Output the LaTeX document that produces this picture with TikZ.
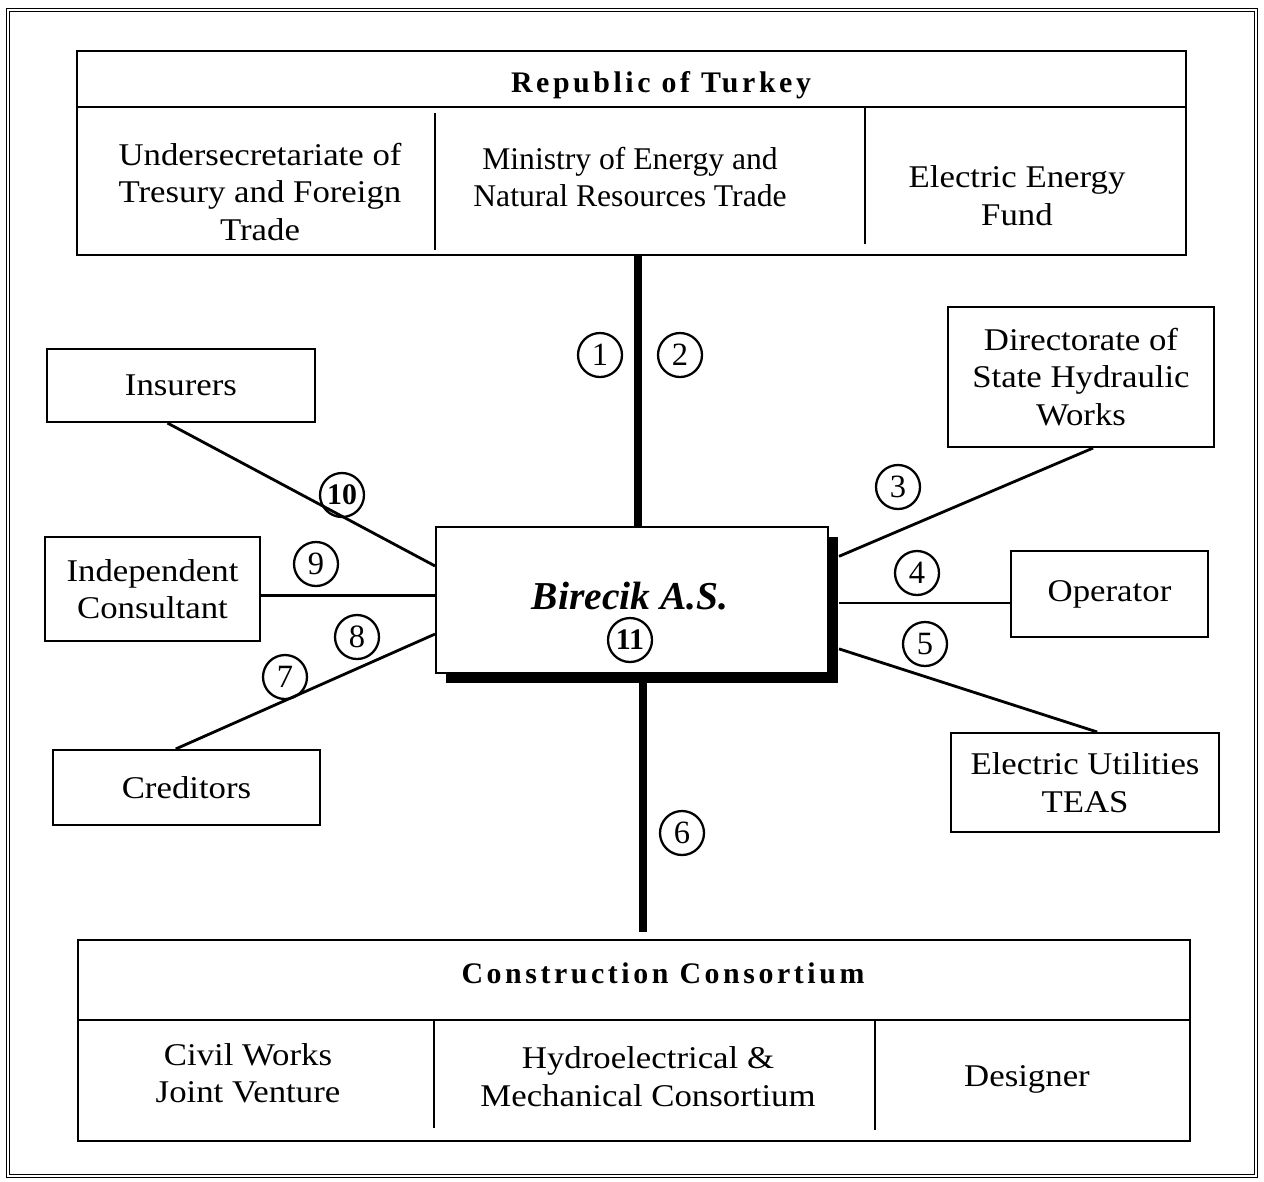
\documentclass[tikz,border=0pt]{standalone}
\usepackage{fontspec}
\setmainfont{Liberation Serif}
\newfontfamily\wideserif[FakeStretch=1.1]{Liberation Serif}
\usetikzlibrary{calc,shadows}
\tikzset{
  box/.style={draw, line width=1.2pt, fill=white, inner sep=0pt, align=center},
  txt/.style={align=center, font=\wideserif\fontsize{18}{21.3}\selectfont},
  hdr/.style={font=\bfseries\fontsize{17}{20}\selectfont\addfontfeature{LetterSpace=12}},
  num/.style={draw, circle, line width=1.3pt, minimum size=0.88cm, inner sep=0pt,
    font=\fontsize{18.5}{20}\selectfont},
  trunk/.style={line width=4pt},
  link/.style={line width=1.6pt},
}

\begin{document}
\begin{tikzpicture}[x=0.02cm, y=-0.02cm]
  \useasboundingbox (0,0) rectangle (1264,1181);
  \draw[double, line width=0.5pt, double distance=1.5pt] (8,10) rectangle (1256,1176);

  %% government block
  \node[box, minimum width=22.18cm, minimum height=4.08cm] (turkey) at (631.5,153) {};
  \node[hdr] (turkeyhd) at (661,85) {Republic of Turkey};
  \draw[line width=1.2pt] (turkey.west |- 0,107) -- (turkey.east |- 0,107);
  \draw[line width=1.2pt] (435,113) -- (435,250);
  \draw[line width=1.2pt] (865,107) -- (865,244);
  \node[txt] (treasury) at (260,192) {Undersecretariate of\\Tresury and Foreign\\Trade};
  \node[txt, font=\fontsize{18}{21.3}\selectfont] (ministry) at (630,177)
    {Ministry of Energy and\\Natural Resources Trade};
  \node[txt] (fund) at (1017,195.5) {Electric Energy\\Fund};

  %% contractor block
  \node[box, minimum width=22.24cm, minimum height=4.02cm] (consortium) at (634,1040.5) {};
  \node[hdr] (consortiumhd) at (663,973) {Construction Consortium};
  \draw[line width=1.2pt] (consortium.west |- 0,1020) -- (consortium.east |- 0,1020);
  \draw[line width=1.2pt] (434,1020) -- (434,1128);
  \draw[line width=1.2pt] (875,1020) -- (875,1130);
  \node[txt] (civil) at (248,1073.5) {Civil Works\\Joint Venture};
  \node[txt] (hydro) at (648,1076.5) {Hydroelectrical \&\\Mechanical Consortium};
  \node[txt] (designer) at (1027,1079) {Designer};

  %% project company
  \node[box, minimum width=7.84cm, minimum height=2.92cm,
    drop shadow={shadow xshift=0.2cm, shadow yshift=-0.2cm, opacity=1, fill=black}]
    (birecik) at (632,600) {};
  \node[font=\bfseries\itshape\fontsize{22.5}{26}\selectfont] (bireciknm) at (630,596) {Birecik A.S.};

  %% parties round it
  \node[box, txt, minimum width=5.36cm, minimum height=1.46cm] (insurers) at (181,385.5) {Insurers};
  \node[box, txt, minimum width=4.30cm, minimum height=2.08cm] (consultant) at (152.5,589) {Independent\\Consultant};
  \node[box, txt, minimum width=5.34cm, minimum height=1.50cm] (creditors) at (186.5,787.5) {Creditors};
  \node[box, txt, minimum width=5.32cm, minimum height=2.80cm] (dsi) at (1081,377) {Directorate of\\State Hydraulic\\Works};
  \node[box, txt, minimum width=3.94cm, minimum height=1.72cm] (operator) at (1109.5,594) {Operator};
  \node[box, txt, minimum width=5.36cm, minimum height=1.98cm] (teas) at (1085,782.5) {Electric Utilities\\TEAS};

  %% connectors
  \draw[trunk] ([xshift=0.12cm]birecik.north) -- ([xshift=0.12cm]birecik.north |- turkey.south);
  \draw[trunk, shorten >=4pt] ([xshift=0.22cm]birecik.south) -- ([xshift=0.22cm]birecik.south |- consortium.north);

  \coordinate (bw9) at ($(birecik.north west)!0.47!(birecik.south west)$);
  \coordinate (be4) at ($(birecik.north east)!0.52!(birecik.south east)+(10,0)$);
  \draw[link] ($(insurers.south west)!0.45!(insurers.south east)$) -- ($(birecik.north west)!0.27!(birecik.south west)$); % insurers
  \draw[link] (bw9 -| consultant.east) -- (bw9); % consultant
  \draw[link] ($(creditors.north west)!0.46!(creditors.north east)$) -- ($(birecik.north west)!0.73!(birecik.south west)$); % creditors
  \draw[link] ($(dsi.south west)!0.545!(dsi.south east)$) -- ($(birecik.north east)!0.205!(birecik.south east)+(10,0)$); % DSI
  \draw[link] (be4) -- (be4 -| operator.west); % operator
  \draw[link] ($(teas.north west)!0.545!(teas.north east)$) -- ($(birecik.north east)!0.83!(birecik.south east)+(10,0)$); % TEAS

  %% agreement numbers
  \node[num] (n1) at (600,355) {1};
  \node[num] (n2) at (680,355) {2};
  \node[num] (n3) at (898,487) {3};
  \node[num] (n4) at (917,573) {4};
  \node[num] (n5) at (925,644) {5};
  \node[num] (n6) at (682,833) {6};
  \node[num] (n7) at (285,677) {7};
  \node[num] (n8) at (357,637) {8};
  \node[num] (n9) at (316,564) {9};
  \node[num, font=\bfseries\fontsize{17}{20}\selectfont] (n10) at (342,495) {10};
  \node[num, font=\bfseries\fontsize{17}{20}\selectfont] (n11) at (630,640) {11};
\end{tikzpicture}
\end{document}
